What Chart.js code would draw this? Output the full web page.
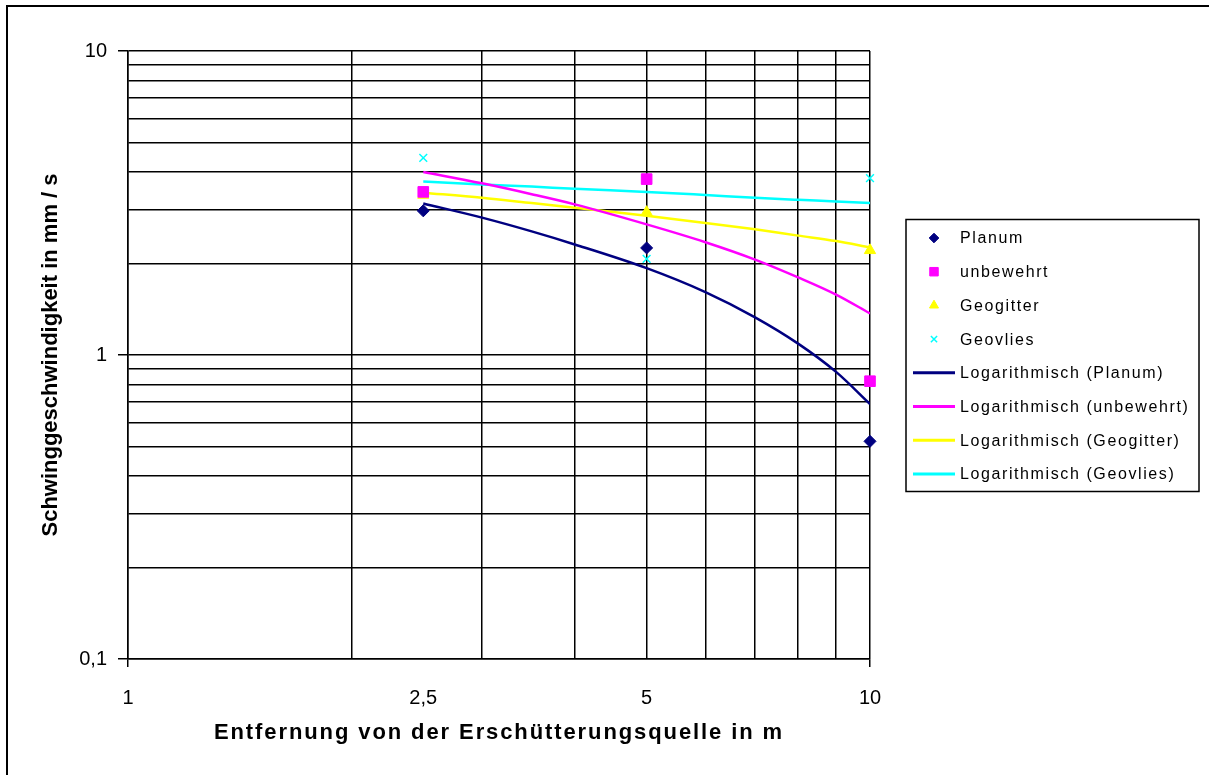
<!DOCTYPE html>
<html>
<head>
<meta charset="utf-8">
<script src="https://cdn.jsdelivr.net/npm/chart.js@4.4.1/dist/chart.umd.min.js"></script>
<style>
  html, body { margin: 0; padding: 0; background: #fff; }
</style>
</head>
<body>
<canvas id="chart" width="1209" height="775"></canvas>
<script>
// Messpunkte
const entfernung = [2.5, 5, 10];
const planum = [2.98, 2.25, 0.52];
const unbewehrt = [3.44, 3.79, 0.82];
const geogitter = [3.36, 2.95, 2.21];
const geovlies = [4.45, 2.07, 3.82];

// Trendlinien
const trendX = [2.5, 3, 3.5, 4, 5, 6, 7, 8, 9, 10];
const trendPlanum = [3.15, 2.83, 2.55, 2.31, 1.93, 1.61, 1.33, 1.09, 0.88, 0.69];
const trendUnbewehrt = [4.00, 3.67, 3.38, 3.13, 2.69, 2.35, 2.06, 1.80, 1.58, 1.37];
const trendGeogitter = [3.42, 3.29, 3.16, 3.05, 2.87, 2.72, 2.59, 2.47, 2.37, 2.26];
const trendGeovlies = [3.72, 3.64, 3.58, 3.52, 3.44, 3.36, 3.29, 3.24, 3.20, 3.16];

// Achsen
const xGrid = [1, 2, 2.5, 3, 4, 5, 6, 7, 8, 9, 10];
const xLabels = { 1: '1', 2.5: '2,5', 5: '5', 10: '10' };
const yGrid = [0.1, 0.2, 0.3, 0.4, 0.5, 0.6, 0.7, 0.8, 0.9, 1, 2, 3, 4, 5, 6, 7, 8, 9, 10];
const yLabels = { 0.1: '0,1', 1: '1', 10: '10' };

const FONT = '"Liberation Sans", Arial, sans-serif';

function pts(xs, ys) {
  return xs.map((x, i) => ({ x: x, y: ys[i] }));
}

function punkte(label, ys, color, style, r) {
  return {
    label: label, data: pts(entfernung, ys), showLine: false,
    pointStyle: style, pointRadius: r, pointHoverRadius: r,
    backgroundColor: color, borderColor: color, pointBorderWidth: style === 'crossRot' ? 1.5 : 1,
    clip: false, legendRadius: r * 0.8
  };
}

function trend(label, ys, color) {
  return {
    label: label, data: pts(trendX, ys), showLine: true,
    borderColor: color, backgroundColor: color, borderWidth: 2.5,
    pointRadius: 0, cubicInterpolationMode: 'monotone'
  };
}

const datasets = [
  punkte('Planum', planum, '#000080', 'rectRot', 6),
  punkte('unbewehrt', unbewehrt, '#ff00ff', 'rect', 7.5),
  punkte('Geogitter', geogitter, '#ffff00', 'triangle', 6.5),
  punkte('Geovlies', geovlies, '#00ffff', 'crossRot', 5.5),
  trend('Logarithmisch (Planum)', trendPlanum, '#000080'),
  trend('Logarithmisch (unbewehrt)', trendUnbewehrt, '#ff00ff'),
  trend('Logarithmisch (Geogitter)', trendGeogitter, '#ffff00'),
  trend('Logarithmisch (Geovlies)', trendGeovlies, '#00ffff')
];

const rahmen = {
  id: 'rahmen',
  beforeDraw(chart) {
    const ctx = chart.ctx;
    ctx.save();
    ctx.fillStyle = '#fff';
    ctx.fillRect(0, 0, chart.width, chart.height);
    ctx.fillStyle = '#000';
    ctx.fillRect(6, 5, 2, chart.height);
    ctx.fillRect(6, 5, chart.width, 2);
    ctx.restore();
  },
  afterDraw(chart) {
    const ctx = chart.ctx;
    const area = chart.chartArea;
    ctx.save();

    // x-Achsentitel
    ctx.fillStyle = '#000';
    ctx.font = 'bold 22px ' + FONT;
    ctx.letterSpacing = '1.9px';
    ctx.textAlign = 'center';
    ctx.textBaseline = 'middle';
    ctx.fillText('Entfernung von der Erschütterungsquelle in m', (area.left + area.right) / 2, 733);

    // Legende
    ctx.strokeStyle = '#000';
    ctx.lineWidth = 1.5;
    ctx.strokeRect(906, 219.5, 293, 272);
    ctx.font = '16px ' + FONT;
    ctx.letterSpacing = '1.6px';
    ctx.textAlign = 'left';
    chart.data.datasets.forEach((ds, i) => {
      const y = 238 + i * 33.7;
      if (ds.showLine) {
        ctx.strokeStyle = ds.borderColor;
        ctx.lineWidth = 3;
        ctx.beginPath();
        ctx.moveTo(913, y);
        ctx.lineTo(955, y);
        ctx.stroke();
      } else {
        ctx.fillStyle = ds.backgroundColor;
        ctx.strokeStyle = ds.borderColor;
        ctx.lineWidth = ds.pointBorderWidth;
        Chart.helpers.drawPoint(ctx, {
          pointStyle: ds.pointStyle, radius: ds.legendRadius,
          borderWidth: ds.pointBorderWidth, rotation: 0
        }, 934, y);
      }
      ctx.fillStyle = '#000';
      ctx.fillText(ds.label, 960, y + 1);
    });
    ctx.restore();
  }
};

new Chart(document.getElementById('chart'), {
  type: 'scatter',
  data: { datasets: datasets },
  options: {
    responsive: false,
    animation: false,
    layout: { padding: { left: 20, top: 51, right: 339, bottom: 0 } },
    plugins: {
      legend: { display: false },
      tooltip: { enabled: false }
    },
    scales: {
      x: {
        type: 'logarithmic', min: 1, max: 10,
        afterBuildTicks: a => { a.ticks = xGrid.map(v => ({ value: v })); },
        afterFit: a => { a.height = 116; },
        ticks: {
          autoSkip: false, maxRotation: 0, padding: 19, color: '#000',
          font: { family: FONT, size: 20 },
          callback: v => xLabels[v] || ''
        },
        grid: {
          color: c => (c.tick && c.tick.value === 2.5) ? 'rgba(0,0,0,0)' : '#000',
          lineWidth: 1.5, tickLength: 8,
          tickColor: c => (c.tick && (c.tick.value === 1 || c.tick.value === 10)) ? '#000' : 'rgba(0,0,0,0)'
        },
        border: { color: '#000', width: 1.5 },
        title: { display: false }
      },
      y: {
        type: 'logarithmic', min: 0.1, max: 10,
        afterBuildTicks: a => { a.ticks = yGrid.map(v => ({ value: v })); },
        afterFit: a => { a.width = 108; },
        ticks: {
          autoSkip: false, padding: 11, color: '#000',
          font: { family: FONT, size: 20 },
          callback: v => yLabels[v] || ''
        },
        grid: {
          color: '#000', lineWidth: 1.5, tickLength: 10,
          tickColor: c => (c.tick && yLabels[c.tick.value]) ? '#000' : 'rgba(0,0,0,0)'
        },
        border: { color: '#000', width: 1.5 },
        title: {
          display: true, text: 'Schwinggeschwindigkeit in mm / s', color: '#000',
          font: { family: FONT, size: 22, weight: 'bold' },
          padding: { top: 18, bottom: 0 }
        }
      }
    }
  },
  plugins: [rahmen]
});
</script>
</body>
</html>
